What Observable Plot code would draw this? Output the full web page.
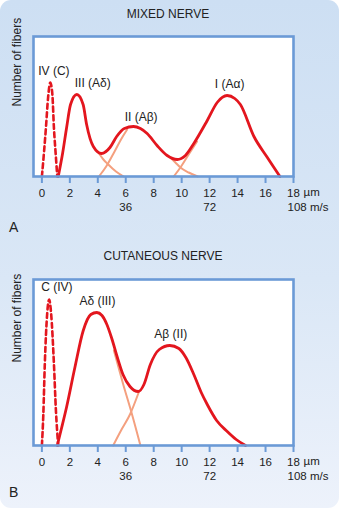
<!DOCTYPE html>
<html>
<head>
<meta charset="utf-8">
<script src="https://cdn.jsdelivr.net/npm/d3@7"></script>
<script src="https://cdn.jsdelivr.net/npm/@observablehq/plot@0.6"></script>
<style>
  html, body { margin: 0; padding: 0; background: #ffffff; }
  #card {
    position: relative; width: 339px; height: 508px; overflow: hidden;
    border-radius: 11px;
    background: linear-gradient(180deg, #cddff3 0%, #dae7f6 55%, #edf2fb 100%);
    font-family: "Liberation Sans", Arial, sans-serif; color: #222;
  }
  #card svg { display: block; position: absolute; left: 0; }
  .title { position: absolute; font-size: 12px; transform: translateX(-50%); white-space: nowrap; }
  .panel { position: absolute; font-size: 14px; }
</style>
</head>
<body>
<div id="card">
  <div class="title" style="left:168px; top:7px;">MIXED NERVE</div>
  <div class="title" style="left:163px; top:249px;">CUTANEOUS NERVE</div>
  <div class="panel" style="left:9px; top:219px;">A</div>
  <div class="panel" style="left:9px; top:484px;">B</div>
</div>
<script>
// ---------- data (fiber diameter in µm, relative number of fibers) ----------
const xTicks = [0, 2, 4, 6, 8, 10, 12, 14, 16, 18];
const speedTicks = [6, 12];
const speedLabels = ["36", "72"];

// Panel A — mixed nerve
const mixedC = [[0,0],[0.15,24],[0.29,49],[0.45,80],[0.6,94],[0.75,82],[0.86,49],[1.0,20],[1.1,0]];
const mixedEnvelope = [[1.17,0],[1.48,23],[1.77,49],[2.05,72],[2.5,82],[2.95,72],[3.2,52],[3.68,30],[4.27,23],[4.87,29],[5.35,40],[5.9,48],[6.55,50],[7.05,48],[7.53,43],[8.24,31],[8.96,21],[9.68,17],[10.27,21],[10.87,33],[11.83,56],[12.54,74],[13.25,81],[13.8,78],[14.2,72],[15.17,40],[16.13,19],[17.03,0]];
const mixedIIITail = [[4.0,25],[4.4,17],[4.75,12],[5.3,5],[5.85,0]];
const mixedIIFront = [[4.08,0],[4.6,10],[5.2,25],[5.7,38],[6.1,47]];
const mixedIITail = [[9.2,19],[9.55,14],[9.91,9],[10.5,4],[11.15,0]];
const mixedIFront = [[9.43,0],[9.91,9],[10.5,22],[11.1,35]];
const mixedLabels = ["IV (C)", "III (A\u03B4)", "II (A\u03B2)", "I (A\u03B1)"];
const mixedLabelX = [0.86, 3.64, 7.1, 13.43];
const mixedLabelY = [105, 93, 59, 92];

// Panel B — cutaneous nerve
const cutC = [[0,0],[0.1,30],[0.21,82],[0.38,132],[0.52,146],[0.66,132],[0.86,82],[1.0,36],[1.17,0]];
const cutEnvelope = [[1.1,0],[1.4,17],[1.76,38],[2.36,78],[2.96,115],[3.5,131],[3.93,133],[4.3,130],[4.65,121],[5.0,107],[5.4,88],[5.8,71],[6.3,59],[6.9,54],[7.3,61],[7.76,81],[8.4,96],[9.15,100],[9.8,97],[10.3,88],[10.87,71],[11.4,53],[11.83,41],[12.5,25],[13.26,14],[13.9,6],[14.57,0]];
const cutAdTail = [[5.15,95],[5.8,62],[6.43,32],[7.05,0]];
const cutAbFront = [[5.1,0],[5.7,16],[6.3,31],[6.95,54]];
const cutLabels = ["C (IV)", "A\u03B4 (III)", "A\u03B2 (II)"];
const cutLabelX = [1.07, 3.97, 9.22];
const cutLabelY = [158, 144, 111];

// ---------- styling ----------
const RED = "#e3161e", ORANGE = "#f4a07f", BLUE = "#6b9ad6", INK = "#222";
const FONT = "'Liberation Sans', Arial, sans-serif";
const TICK_FS = 11.5;

const pts = (a) => a.map(([x, y]) => ({x, y}));
const labelRows = (t, xs, ys) => t.map((s, i) => ({label: s, x: xs[i], y: ys[i]}));
const hasAxisMarks = typeof Plot.axisX === "function";

function panel({top, yMax, marginTop, marginBottom, c, envelope, orange, labels}) {
  const axisMarks = hasAxisMarks
    ? [Plot.axisX({ticks: xTicks, tickSize: 7, tickPadding: 5, tickFormat: d => String(d), stroke: BLUE, strokeWidth: 2, fill: INK, fontSize: TICK_FS, label: null})]
    : [];
  const xScale = hasAxisMarks
    ? {domain: [-0.6, 18]}
    : {domain: [-0.6, 18], ticks: xTicks, tickSize: 7, tickPadding: 5, tickFormat: d => String(d), label: null};
  const chart = Plot.plot({
    width: 339, height: 254,
    marginLeft: 33, marginRight: 46, marginTop, marginBottom,
    x: xScale,
    y: {domain: [0, yMax], axis: null},
    style: {background: "transparent", fontFamily: FONT, fontSize: TICK_FS + "px", color: INK, overflow: "visible"},
    marks: [
      Plot.frame({fill: "white", stroke: "none"}),
      ...orange.map(seg => Plot.line(pts(seg), {x: "x", y: "y", stroke: ORANGE, strokeWidth: 2, curve: "monotone-x"})),
      Plot.line(pts(envelope), {x: "x", y: "y", stroke: RED, strokeWidth: 2.8, curve: "monotone-x", strokeLinejoin: "round"}),
      Plot.line(pts(c), {x: "x", y: "y", stroke: RED, strokeWidth: 2.6, strokeDasharray: "5,3.5", curve: "monotone-x"}),
      Plot.frame({stroke: BLUE, strokeWidth: 2.6}),
      ...axisMarks,
      Plot.text(speedTicks, {x: d => d, text: (d, i) => speedLabels[i], frameAnchor: "bottom", dy: 34, fill: INK, fontSize: TICK_FS}),
      Plot.text(["\u00B5m"], {x: () => 18, frameAnchor: "bottom", dy: 19, dx: 10, textAnchor: "start", fill: INK, fontSize: TICK_FS}),
      Plot.text(["108 m/s"], {x: () => 18, frameAnchor: "bottom", dy: 34, dx: -6, textAnchor: "start", fill: INK, fontSize: TICK_FS}),
      Plot.text(labels, {x: "x", y: "y", text: "label", fill: INK, fontSize: 12}),
      Plot.text(["Number of fibers"], {frameAnchor: "left", rotate: -90, dx: -16, fill: INK, fontSize: 12})
    ]
  });
  if (!hasAxisMarks) {
    chart.querySelectorAll('[aria-label^="x-axis"] line, [aria-label^="x-axis"] path').forEach(el => {
      el.setAttribute("stroke", BLUE); el.setAttribute("stroke-width", 2);
    });
  }
  chart.style.top = top + "px";
  return chart;
}

const card = document.getElementById("card");
card.appendChild(panel({
  top: 0, yMax: 140, marginTop: 36, marginBottom: 78,
  c: mixedC, envelope: mixedEnvelope,
  orange: [mixedIIITail, mixedIIFront, mixedIITail, mixedIFront],
  labels: labelRows(mixedLabels, mixedLabelX, mixedLabelY)
}));
card.appendChild(panel({
  top: 254, yMax: 166, marginTop: 25, marginBottom: 63,
  c: cutC, envelope: cutEnvelope,
  orange: [cutAdTail, cutAbFront],
  labels: labelRows(cutLabels, cutLabelX, cutLabelY)
}));
</script>
</body>
</html>
